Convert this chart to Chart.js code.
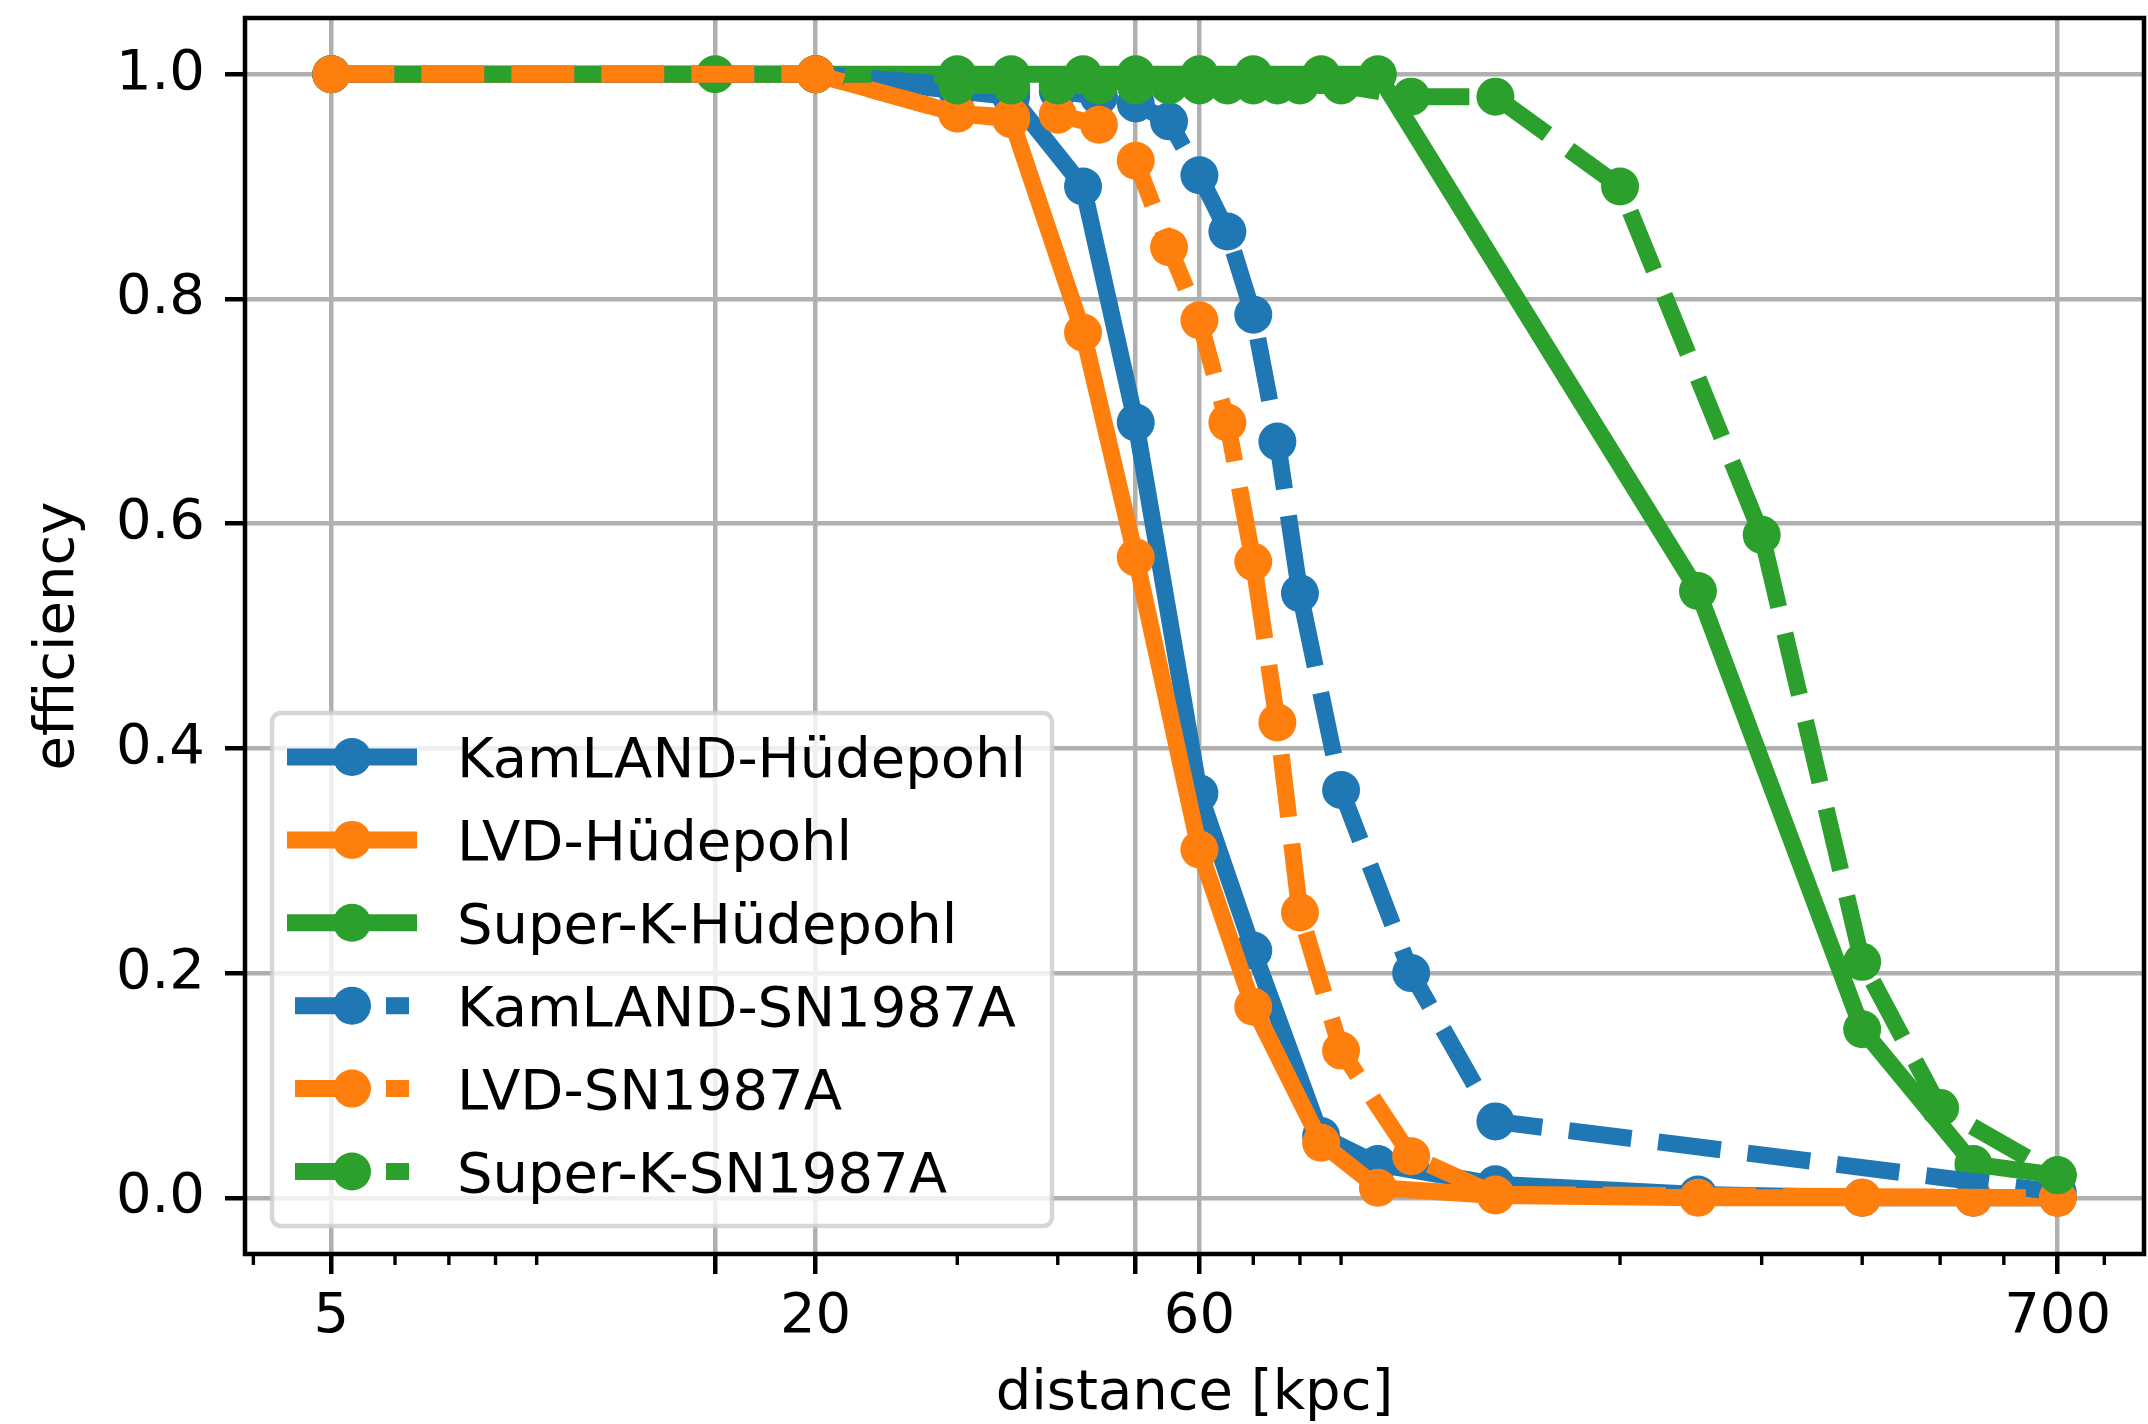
<!DOCTYPE html>
<html lang="en">
<head>
  <meta charset="UTF-8">
  <title>Efficiency vs distance</title>
  <style>
    body {
      margin: 0;
      padding: 0;
      background-color: white;
    }
    canvas {
      display: block;
    }
  </style>
  <script src="https://cdn.jsdelivr.net/npm/chart.js"></script>
</head>
<body>
  <canvas id="effChart" width="2148" height="1424"></canvas>

  <script>
    // axis ticks
    const xTicks = [5, 15, 20, 50, 60, 700];
    const xTickLabels = ['5', '', '20', '', '60', '700'];
    const xMinorTicks = [4, 6, 7, 8, 9, 30, 40, 70, 80, 90, 200, 300, 400, 500, 600, 800];
    const yTicks = [0, 0.2, 0.4, 0.6, 0.8, 1.0];

    // distance [kpc] / efficiency, one pair per curve
    const distKamlandH = [5, 20, 30, 35, 43, 50, 60, 70, 85, 100, 140, 250, 400, 550, 700];
    const effKamlandH = [1.0, 1.0, 0.985, 0.98, 0.90, 0.69, 0.36, 0.22, 0.055, 0.03, 0.012, 0.003, 0.0, 0.0, 0.0];

    const distLvdH = [5, 20, 30, 35, 43, 50, 60, 70, 85, 100, 140, 250, 400, 550, 700];
    const effLvdH = [1.0, 1.0, 0.965, 0.96, 0.77, 0.57, 0.31, 0.17, 0.049, 0.009, 0.002, 0.0, 0.0, 0.0, 0.0];

    const distSuperkH = [5, 15, 20, 30, 35, 43, 50, 60, 70, 85, 100, 250, 400, 550, 700];
    const effSuperkH = [1.0, 1.0, 1.0, 1.0, 1.0, 1.0, 1.0, 1.0, 1.0, 1.0, 1.0, 0.54, 0.15, 0.03, 0.02];

    const distKamlandS = [5, 20, 30, 35, 40, 45, 50, 55, 60, 65, 70, 75, 80, 90, 110, 140, 700];
    const effKamlandS = [1.0, 1.0, 0.99, 0.985, 0.985, 0.98, 0.974, 0.958, 0.91, 0.86, 0.786, 0.673, 0.538, 0.363, 0.20, 0.068, 0.005];

    const distLvdS = [5, 20, 30, 35, 40, 45, 50, 55, 60, 65, 70, 75, 80, 90, 110, 140, 700];
    const effLvdS = [1.0, 1.0, 0.965, 0.962, 0.964, 0.955, 0.923, 0.846, 0.781, 0.69, 0.566, 0.423, 0.254, 0.131, 0.037, 0.003, 0.0];

    const distSuperkS = [30, 35, 40, 45, 50, 55, 60, 65, 70, 75, 80, 90, 110, 140, 200, 300, 400, 500, 700];
    const effSuperkS = [0.99, 0.99, 0.99, 0.99, 0.99, 0.99, 0.99, 0.99, 0.99, 0.99, 0.99, 0.99, 0.98, 0.98, 0.90, 0.59, 0.21, 0.08, 0.02];

    const FONT = 'DejaVu Sans';
    const BLUE = '#1f77b4';
    const ORANGE = '#ff7f0e';
    const GREEN = '#2ca02c';
    const LINE_W = 17;
    const DASH = [63, 27];

    Chart.defaults.font.family = FONT;
    Chart.defaults.color = '#000';

    // log axis range with 5% margin like matplotlib
    const allDist = [].concat(distKamlandH, distLvdH, distSuperkH, distKamlandS, distLvdS, distSuperkS);
    const lo = Math.log10(Math.min(...allDist));
    const hi = Math.log10(Math.max(...allDist));
    const xMin = Math.pow(10, lo - 0.05 * (hi - lo));
    const xMax = Math.pow(10, hi + 0.05 * (hi - lo));

    function points(dist, eff) {
      return dist.map((d, i) => ({ x: d, y: eff[i] }));
    }

    function makeSet(label, dist, eff, color, dashed, idx) {
      return {
        label: label,
        data: points(dist, eff),
        borderColor: color,
        backgroundColor: color,
        borderWidth: LINE_W,
        borderDash: dashed ? DASH : [],
        borderJoinStyle: 'round',
        borderCapStyle: 'butt',
        pointRadius: 19,
        pointBorderWidth: 0,
        pointBackgroundColor: color,
        pointHoverRadius: 19,
        tension: 0,
        order: -idx   // later series on top, as in matplotlib
      };
    }

    // spines + minor x ticks
    const framePlugin = {
      id: 'frame',
      afterDatasetsDraw(chart) {
        const { ctx, chartArea: a } = chart;
        const xs = chart.scales.x;
        ctx.save();
        ctx.strokeStyle = '#000';
        ctx.lineWidth = 4.5;
        ctx.strokeRect(a.left, a.top, a.right - a.left, a.bottom - a.top);
        ctx.lineWidth = 3.4;
        ctx.beginPath();
        xMinorTicks.forEach(v => {
          const px = xs.getPixelForValue(v);
          ctx.moveTo(px, a.bottom);
          ctx.lineTo(px, a.bottom + 11);
        });
        ctx.stroke();
        ctx.restore();
      }
    };

    // matplotlib-like legend box in the lower left
    const legendPlugin = {
      id: 'mplLegend',
      afterDraw(chart) {
        const ctx = chart.ctx;
        const box = { left: 272, top: 713, right: 1052, bottom: 1226, r: 9 };
        ctx.save();
        ctx.beginPath();
        ctx.roundRect(box.left, box.top, box.right - box.left, box.bottom - box.top, box.r);
        ctx.fillStyle = 'rgba(255, 255, 255, 0.8)';
        ctx.fill();
        ctx.lineWidth = 4.5;
        ctx.strokeStyle = 'rgba(204, 204, 204, 0.8)';
        ctx.stroke();

        const hx0 = 287, hx1 = 417, mx = 352;
        chart.data.datasets.forEach((ds, i) => {
          const cy = 757 + i * 82.9;
          ctx.strokeStyle = ds.borderColor;
          ctx.lineWidth = LINE_W;
          ctx.lineCap = 'butt';
          ctx.beginPath();
          if (ds.borderDash.length) {
            ctx.moveTo(hx0 + 8, cy);
            ctx.lineTo(hx0 + 72, cy);
            ctx.moveTo(hx0 + 99, cy);
            ctx.lineTo(hx0 + 122, cy);
          } else {
            ctx.moveTo(hx0, cy);
            ctx.lineTo(hx1, cy);
          }
          ctx.stroke();
          ctx.beginPath();
          ctx.arc(mx, cy, 19, 0, Math.PI * 2);
          ctx.fillStyle = ds.borderColor;
          ctx.fill();

          ctx.fillStyle = '#000';
          ctx.font = '56px "' + FONT + '"';
          ctx.textAlign = 'left';
          ctx.textBaseline = 'alphabetic';
          ctx.fillText(ds.label, 457, cy + 20.4);
        });
        ctx.restore();
      }
    };

    const effCtx = document.getElementById('effChart').getContext('2d');
    const effChart = new Chart(effCtx, {
      type: 'line',
      data: {
        datasets: [
          makeSet('KamLAND-Hüdepohl', distKamlandH, effKamlandH, BLUE, false, 0),
          makeSet('LVD-Hüdepohl', distLvdH, effLvdH, ORANGE, false, 1),
          makeSet('Super-K-Hüdepohl', distSuperkH, effSuperkH, GREEN, false, 2),
          makeSet('KamLAND-SN1987A', distKamlandS, effKamlandS, BLUE, true, 3),
          makeSet('LVD-SN1987A', distLvdS, effLvdS, ORANGE, true, 4),
          makeSet('Super-K-SN1987A', distSuperkS, effSuperkS, GREEN, true, 5)
        ]
      },
      options: {
        responsive: false,
        animation: false,
        devicePixelRatio: 1,
        events: [],
        layout: {
          autoPadding: false,
          padding: { left: 0, top: 18, right: 4, bottom: 0 }
        },
        plugins: {
          legend: { display: false },
          tooltip: { enabled: false }
        },
        scales: {
          x: {
            type: 'logarithmic',
            min: xMin,
            max: xMax,
            afterBuildTicks: (s) => {
              s.ticks = xTicks.map(v => ({ value: v }));
            },
            afterFit: (s) => {
              s.height = 170;
              s.paddingLeft = 0;
              s.paddingRight = 0;
            },
            ticks: {
              autoSkip: false,
              maxRotation: 0,
              padding: 10,
              color: '#000',
              font: { size: 56 },
              callback: (v, i) => xTickLabels[i]
            },
            grid: {
              color: '#b0b0b0',
              lineWidth: 4.5,
              tickLength: 20,
              tickColor: '#000',
              tickWidth: 4.5
            },
            border: { display: false },
            title: {
              display: true,
              text: 'distance [kpc]',
              color: '#000',
              font: { size: 56, lineHeight: 1.05 },
              padding: 0
            }
          },
          y: {
            type: 'linear',
            min: -0.05,
            max: 1.05,
            afterBuildTicks: (s) => {
              s.ticks = yTicks.map(v => ({ value: v }));
            },
            afterFit: (s) => {
              s.width = 245;
              s.paddingTop = 0;
              s.paddingBottom = 0;
            },
            ticks: {
              padding: 20,
              color: '#000',
              font: { size: 56 },
              callback: (v) => Number(v).toFixed(1)
            },
            grid: {
              color: '#b0b0b0',
              lineWidth: 4.5,
              tickLength: 20,
              tickColor: '#000',
              tickWidth: 4.5
            },
            border: { display: false },
            title: {
              display: true,
              text: 'efficiency',
              color: '#000',
              font: { size: 56, lineHeight: 1.2 },
              padding: { top: 25, bottom: 0 }
            }
          }
        }
      },
      plugins: [framePlugin, legendPlugin]
    });
  </script>
</body>
</html>
